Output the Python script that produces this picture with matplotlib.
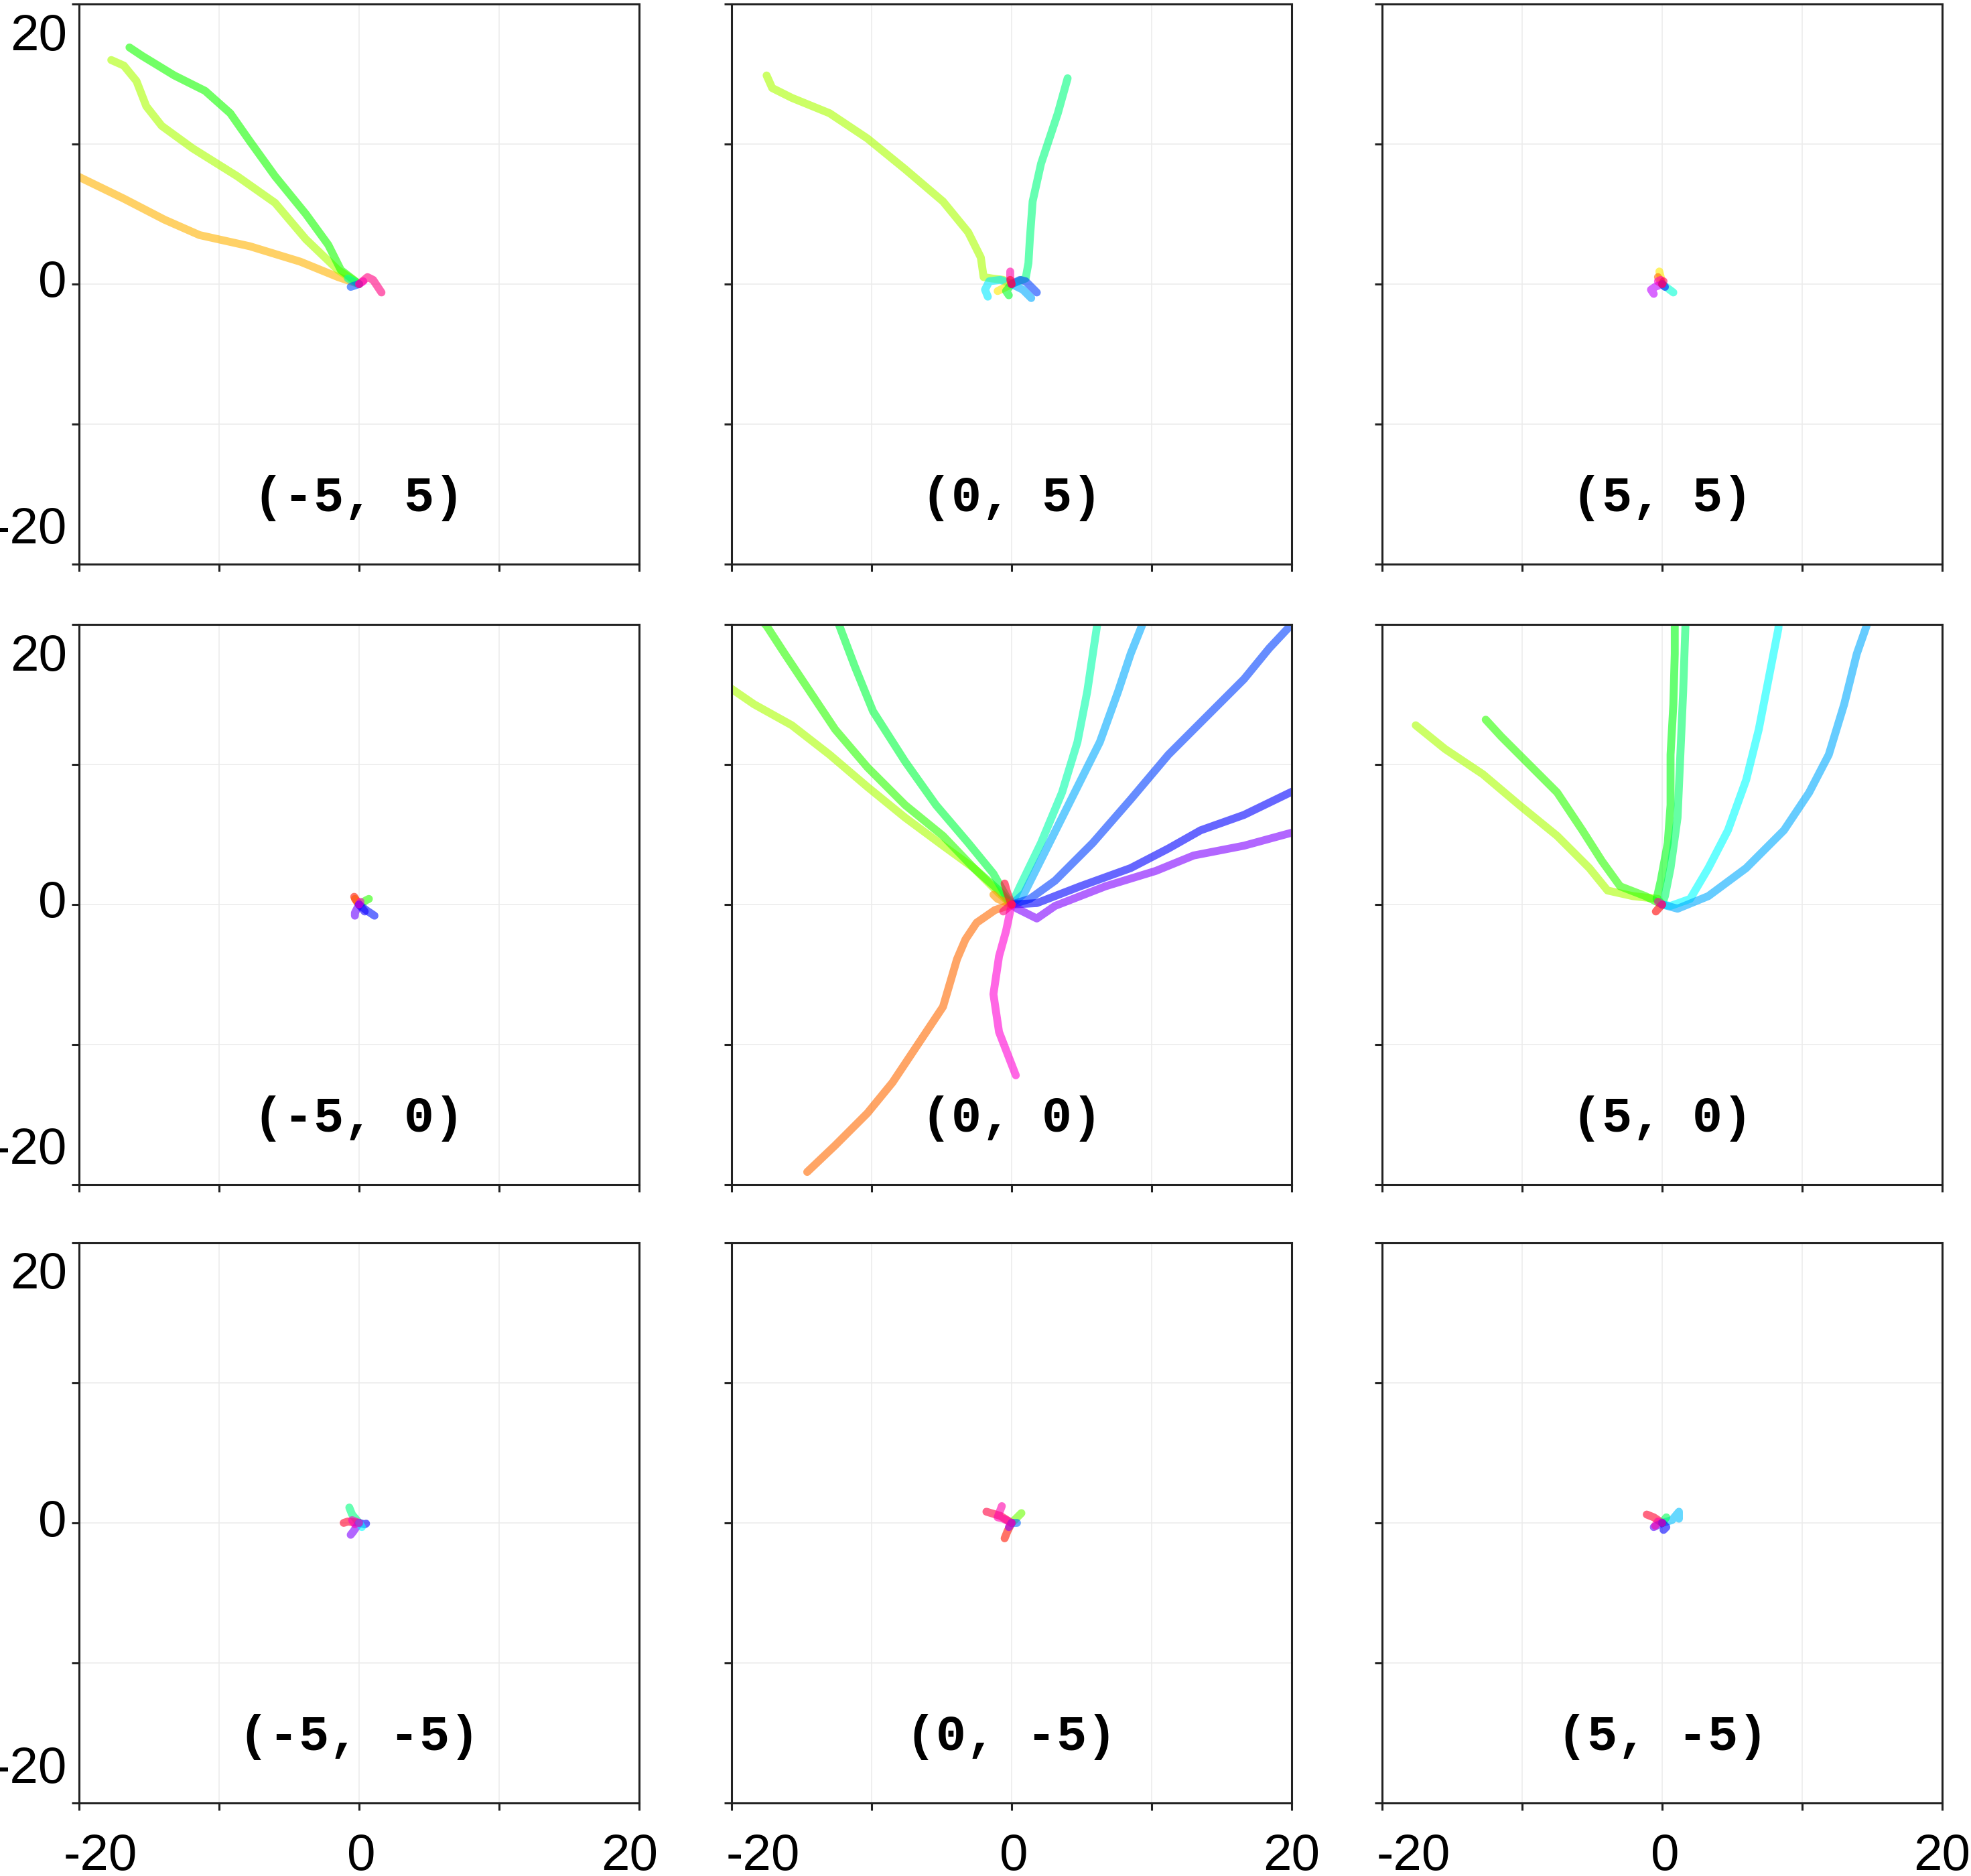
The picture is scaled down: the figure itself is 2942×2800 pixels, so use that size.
import matplotlib
matplotlib.use('Agg')
import matplotlib.pyplot as plt
from matplotlib.colors import hsv_to_rgb

# start offsets shown in each panel (row by row)
starts = ['(-5, 5)', '(0, 5)', '(5, 5)',
          '(-5, 0)', '(0, 0)', '(5, 0)',
          '(-5, -5)', '(0, -5)', '(5, -5)']

ticks = [-20, -10, 0, 10, 20]
ticklabels = ['-20', '', '0', '', '20']

# trajectories: (hue in degrees, x values, y values)
traj_m5_p5 = [
    (42, [-21.0, -20.1, -16.8, -13.9, -11.4, -7.8, -4.2, -1.5, 0], [8.3, 7.7, 6.1, 4.6, 3.5, 2.7, 1.6, 0.5, 0]),
    (80, [-17.7, -16.8, -15.9, -15.2, -14.1, -11.9, -8.7, -6.0, -3.8, -1.5, 0],
         [16.0, 15.6, 14.5, 12.7, 11.3, 9.7, 7.7, 5.8, 3.2, 1.0, 0]),
    (115, [-16.4, -15.5, -13.2, -11.0, -9.2, -7.8, -6.0, -3.8, -2.2, -1.3, 0],
          [16.9, 16.3, 14.9, 13.8, 12.2, 10.2, 7.7, 5.0, 2.8, 1.0, 0]),
    (160, [0, -0.8], [0, 0.4]),
    (220, [0, -0.6], [0, -0.2]),
    (300, [0, 0.3], [0, 0.2]),
    (330, [0, 0.6, 1.0, 1.6], [0, 0.5, 0.3, -0.6]),
]

traj_0_p5 = [
    (80, [-17.5, -17.1, -15.7, -13.0, -10.3, -7.6, -4.9, -3.1, -2.2, -2.0, -1.4, -0.6, 0],
         [14.9, 14.0, 13.3, 12.2, 10.4, 8.2, 5.9, 3.7, 1.9, 0.5, 0.4, 0.3, 0]),
    (150, [0, 1.0, 1.2, 1.3, 1.5, 2.1, 2.7, 3.3, 4.0], [0, 0.4, 1.5, 3.2, 5.9, 8.6, 10.4, 12.2, 14.7]),
    (185, [0, -0.8, -1.6, -1.9, -1.7], [0, 0.3, 0.2, -0.4, -0.9]),
    (55, [0, -0.6, -1.0], [0, -0.3, -0.5]),
    (130, [0, -0.4, -0.2], [0, -0.5, -0.8]),
    (225, [0, 0.6, 1.0, 1.6, 1.8], [0, 0.3, 0.2, -0.4, -0.6]),
    (200, [0, 0.8, 1.4], [0, -0.4, -1.0]),
    (320, [0, -0.1, -0.1], [0, 0.5, 0.9]),
    (350, [0, -0.1], [0, 0.3]),
]

traj_p5_p5 = [
    (55, [0, -0.1, -0.2], [0, 0.5, 0.9]),
    (25, [0, -0.3], [0, 0.5]),
    (285, [0, -0.5, -0.8, -0.6], [0, -0.2, -0.4, -0.7]),
    (170, [0, 0.4, 0.8], [0, -0.3, -0.6]),
    (235, [0, 0.2], [0, -0.2]),
    (315, [0, -0.3, -0.1], [0, 0.2, 0.3]),
    (340, [0, 0.1], [0, 0.2]),
]

traj_m5_0 = [
    (5, [0, -0.2, -0.35], [0, 0.3, 0.55]),
    (20, [0, -0.3], [0, 0.4]),
    (110, [0, 0.5, 0.7], [0, 0.3, 0.4]),
    (265, [0, -0.3, -0.3], [0, -0.6, -0.8]),
    (235, [0, 0.5, 1.1], [0, -0.4, -0.8]),
    (245, [0, 0.4], [0, -0.5]),
    (310, [0, 0.1], [0, 0.2]),
]

traj_0_0 = [
    (80, [-21.0, -20.0, -18.4, -15.7, -13.0, -10.3, -7.6, -4.9, -2.7, -0.9, 0],
         [15.9, 15.4, 14.3, 12.8, 10.7, 8.4, 6.2, 4.2, 2.6, 0.8, 0]),
    (110, [-18.5, -17.5, -16.2, -14.4, -12.6, -10.3, -7.6, -4.9, -2.7, -0.9, 0],
          [21.0, 19.9, 17.9, 15.2, 12.5, 9.8, 7.1, 4.9, 2.6, 1.0, 0]),
    (135, [-12.7, -12.3, -11.2, -9.9, -7.6, -5.4, -3.1, -1.3, -0.4, 0],
          [21.0, 19.9, 17.0, 13.8, 10.2, 7.1, 4.4, 2.2, 0.6, 0]),
    (160, [0, 0.6, 2.1, 3.6, 4.7, 5.4, 5.8, 6.1, 6.2], [0, 1.3, 4.4, 8.0, 11.6, 15.2, 17.9, 19.9, 21.0]),
    (200, [0, 0.9, 2.7, 4.5, 6.3, 7.6, 8.5, 9.3, 9.6], [0, 0.8, 4.4, 8.0, 11.6, 15.2, 17.9, 19.9, 21.0]),
    (225, [0, 1.3, 3.1, 5.8, 8.5, 11.2, 13.9, 16.6, 18.4, 19.9, 21.0],
          [0, 0.4, 1.7, 4.4, 7.5, 10.7, 13.4, 16.1, 18.3, 19.9, 21.0]),
    (240, [0, 1.8, 4.9, 8.5, 11.2, 13.5, 16.6, 19.9, 21.0], [0, 0.1, 1.3, 2.6, 4.0, 5.3, 6.4, 8.0, 8.5]),
    (270, [0, 0.4, 1.8, 3.1, 6.7, 10.3, 13.0, 16.6, 19.9, 21.0],
          [0, -0.3, -1.0, -0.1, 1.3, 2.4, 3.5, 4.2, 5.1, 5.4]),
    (25, [0, -1.2, -2.5, -3.3, -3.9, -4.9, -6.7, -8.5, -10.3, -12.6, -14.6],
         [0, -0.4, -1.3, -2.5, -3.9, -7.3, -10.0, -12.7, -14.9, -17.2, -19.1]),
    (310, [0, -0.4, -0.9, -1.3, -0.9, 0.3], [0, -1.9, -3.7, -6.4, -9.1, -12.2]),
    (35, [0, -1.0, -1.3], [0, 0.4, 0.7]),
    (350, [0, -0.3, -0.5], [0, 0.8, 1.5]),
    (330, [0, -0.6], [0, -0.5]),
]

traj_p5_0 = [
    (80, [-17.6, -15.5, -12.8, -10.2, -7.5, -5.2, -3.9, -2.1, -0.3, 0],
         [12.8, 11.1, 9.3, 7.1, 4.9, 2.6, 1.0, 0.6, 0.4, 0]),
    (110, [-12.6, -11.5, -9.7, -7.5, -5.7, -4.3, -3.0, -1.2, 0],
          [13.2, 12.0, 10.2, 8.0, 5.3, 3.1, 1.3, 0.6, 0]),
    (125, [0, -0.4, -0.1, 0.4, 0.6, 0.6, 0.8, 0.9, 0.9], [0, 0.4, 1.7, 4.4, 7.1, 10.7, 14.3, 17.9, 21.0]),
    (145, [0, 0.2, 0.6, 1.1, 1.3, 1.5, 1.7], [0, 0.6, 2.6, 6.2, 10.7, 15.2, 21.0]),
    (180, [0, 0.6, 2.0, 3.3, 4.7, 6.0, 6.9, 7.6, 8.3, 8.4], [0, -0.1, 0.4, 2.6, 5.3, 8.9, 12.5, 16.1, 19.7, 21.0]),
    (200, [0, 1.1, 3.3, 6.0, 8.7, 10.5, 11.9, 13.0, 13.9, 14.6, 14.8],
          [0, -0.3, 0.6, 2.6, 5.3, 8.0, 10.7, 14.3, 17.9, 19.9, 21.0]),
    (0, [0, -0.45], [0, -0.5]),
    (320, [0, -0.3], [0, 0.2]),
]

traj_m5_m5 = [
    (150, [0, -0.5, -0.7], [0, 0.6, 1.1]),
    (350, [0, -0.8, -1.1], [0, 0.1, 0.0]),
    (270, [0, -0.4, -0.6], [0, -0.6, -0.85]),
    (240, [0, 0.4, 0.5], [0, -0.1, -0.05]),
    (180, [0, 0.2], [0, -0.3]),
    (315, [0, -0.5, -0.3], [0, 0.2, -0.1]),
]

traj_0_m5 = [
    (345, [0, -0.8, -1.8], [0, 0.5, 0.8]),
    (5, [0, -0.3, -0.5], [0, -0.6, -1.1]),
    (95, [0, 0.5, 0.7], [0, 0.5, 0.7]),
    (215, [0, 0.4], [0, 0.0]),
    (275, [0, -0.2], [0, -0.3]),
    (320, [0, -0.6, -1.0, -0.7], [0, 0.3, 0.4, 1.2]),
]

traj_p5_m5 = [
    (350, [0, -0.6, -1.1], [0, 0.4, 0.6]),
    (195, [0, 0.7, 1.2, 1.2], [0, 0.2, 0.8, 0.3]),
    (140, [0, 0.3], [0, 0.4]),
    (260, [0, -0.6], [0, -0.3]),
    (240, [0, 0.3, 0.1], [0, -0.3, -0.5]),
    (320, [0, -0.3, -0.5], [0, 0.1, -0.2]),
]

panels = [traj_m5_p5, traj_0_p5, traj_p5_p5,
          traj_m5_0, traj_0_0, traj_p5_0,
          traj_m5_m5, traj_0_m5, traj_p5_m5]

W, H = 2942, 2800
fig = plt.figure(figsize=(W / 100, H / 100), dpi=100)

col_left = [118, 1092, 2063]
row_top = [6, 932, 1855]
size = 836

# pixel offsets of the outer tick labels
x_shift = {'-20': [32, 47, 47], '0': [3, 3, 4], '20': [-14, 0, 0]}
y_shift = {'20': -49, '0': 0, '-20': 50}

for k, trajs in enumerate(panels):
    r, c = divmod(k, 3)
    ax = fig.add_axes([col_left[c] / W, (H - row_top[r] - size) / H, size / W, size / H])
    for hue, xs, ys in trajs:
        ax.plot(xs, ys, color=hsv_to_rgb((hue / 360, 1, 1)), lw=8.5, alpha=0.6,
                solid_capstyle='round', solid_joinstyle='round')
    ax.set_xlim(-20, 20)
    ax.set_ylim(-20, 20)
    ax.set_xticks(ticks)
    ax.set_yticks(ticks)
    ax.set_xticklabels([])
    ax.set_yticklabels([])
    ax.grid(True, color='#ececec', lw=1.2)
    ax.set_axisbelow(True)
    ax.tick_params(direction='out', length=8, width=2.2, color='#222222')
    for sp in ax.spines.values():
        sp.set_linewidth(2.2)
        sp.set_color('#222222')

    ax.text(0, -15.3, starts[k], ha='center', va='center', fontsize=54,
            family=['Liberation Mono', 'DejaVu Sans Mono'], fontweight='bold')

    if c == 0:
        for t, lab in zip(ticks, ticklabels):
            if lab:
                ax.annotate(lab, xy=(0, t), xycoords=('axes fraction', 'data'),
                            xytext=(-13, y_shift[lab] * 0.72), textcoords='offset points',
                            ha='right', va='center', fontsize=55,
                            family='Liberation Sans', annotation_clip=False)
    if r == 2:
        for t, lab in zip(ticks, ticklabels):
            if lab:
                ax.annotate(lab, xy=(t, 0), xycoords=('data', 'axes fraction'),
                            xytext=(x_shift[lab][c] * 0.72, -80 * 0.72), textcoords='offset points',
                            ha='center', va='center', fontsize=55,
                            family='Liberation Sans', annotation_clip=False)

fig.savefig('out.png', dpi=100)
